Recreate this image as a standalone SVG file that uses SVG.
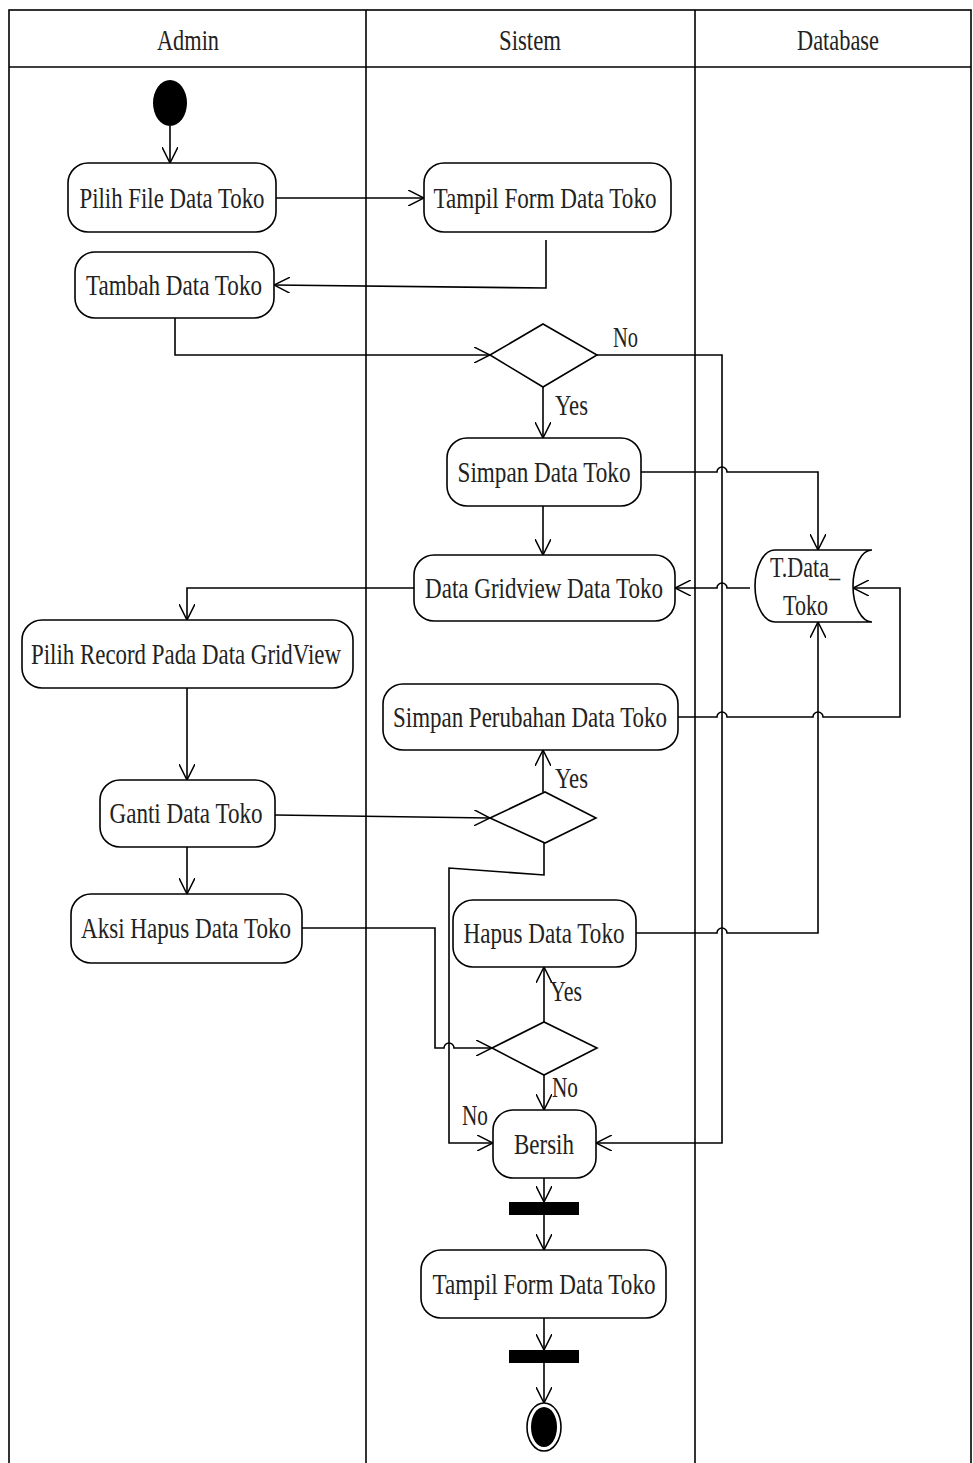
<svg xmlns="http://www.w3.org/2000/svg" width="973" height="1463" viewBox="0 0 973 1463">
<style>
.lane{fill:none;stroke:#000;stroke-width:1.6}
.act{fill:#fff;stroke:#000;stroke-width:1.6}
.dec{fill:#fff;stroke:#000;stroke-width:1.6}
.con{fill:none;stroke:#000;stroke-width:1.6;marker-end:url(#arr)}
.con2{fill:none;stroke:#000;stroke-width:1.6}
text{font-family:"Liberation Serif","Times New Roman",serif;font-size:29px;fill:#222}
.c{text-anchor:middle}
</style>
<defs>
<marker id="arr" markerUnits="userSpaceOnUse" viewBox="0 0 17 16" refX="16" refY="8" markerWidth="17" markerHeight="16" orient="auto">
<path d="M0,0 L16,8 L0,16" fill="none" stroke="#000" stroke-width="1.5"/>
</marker>
</defs>
<rect width="973" height="1463" fill="#fff"/>
<g id="swimlanes">
<rect class="lane" x="9" y="10" width="962" height="1470" stroke-width="2"/>
<line class="lane" x1="9" y1="67" x2="971" y2="67" stroke-width="2.2"/>
<line class="lane" x1="366" y1="10" x2="366" y2="1463"/>
<line class="lane" x1="695" y1="10" x2="695" y2="1463"/>
<text class="c" x="188" y="50" textLength="62" lengthAdjust="spacingAndGlyphs">Admin</text>
<text class="c" x="530" y="50" textLength="62" lengthAdjust="spacingAndGlyphs">Sistem</text>
<text class="c" x="838" y="50" textLength="82" lengthAdjust="spacingAndGlyphs">Database</text>
</g>
<g id="connectors">
<path class="con" d="M170,126 L170,163"/>
<path class="con" d="M276,198 L424,198"/>
<path class="con" d="M546,240 L546,288 L274,285"/>
<path class="con" d="M175,318 L175,355 L490,355"/>
<path class="con" d="M597,355 L722,355 L722,1143 L596,1143"/>
<path class="con" d="M543,387 L543,438"/>
<path class="con" d="M640,472 L717,472 A5,5 0 0 1 727,472 L818,472 L818,550"/>
<path class="con" d="M543,506 L543,555"/>
<path class="con" d="M750,588 L727,588 A5,5 0 0 0 717,588 L675,588"/>
<path class="con" d="M414,588 L187,588 L187,620"/>
<path class="con" d="M187,688 L187,780"/>
<path class="con" d="M187,847 L187,894"/>
<path class="con" d="M275,815 L490,818"/>
<path class="con" d="M543,792 L543,750"/>
<path class="con" d="M678,717 L717,717 A5,5 0 0 1 727,717 L813,717 A5,5 0 0 1 823,717 L900,717 L900,588 L853,588"/>
<path class="con" d="M544,843 L544,875 L449,868 L449,1143 L493,1143"/>
<path class="con" d="M302,928 L435,928 L435,1048 L444,1048 A5,5 0 0 1 454,1048 L492,1048"/>
<path class="con" d="M636,933 L717,933 A5,5 0 0 1 727,933 L818,933 L818,622"/>
<path class="con" d="M544,1022 L544,967"/>
<path class="con" d="M544,1075 L544,1110"/>
<path class="con" d="M544,1178 L544,1202"/>
<path class="con" d="M544,1215 L544,1250"/>
<path class="con" d="M544,1318 L544,1350"/>
<path class="con" d="M544,1363 L544,1403"/>
<text x="613" y="347" textLength="25" lengthAdjust="spacingAndGlyphs">No</text>
<text x="555" y="415" textLength="33" lengthAdjust="spacingAndGlyphs">Yes</text>
<text x="555" y="788" textLength="33" lengthAdjust="spacingAndGlyphs">Yes</text>
<text x="550" y="1001" textLength="32" lengthAdjust="spacingAndGlyphs">Yes</text>
<text x="552" y="1097" textLength="26" lengthAdjust="spacingAndGlyphs">No</text>
<text x="462" y="1125" textLength="26" lengthAdjust="spacingAndGlyphs">No</text>
</g>
<g id="start"><ellipse cx="170" cy="103" rx="17" ry="23" fill="#000"/></g>
<g id="pilih-file"><rect class="act" x="68" y="163" width="208" height="69" rx="20"/><text class="c" x="172" y="208" textLength="185" lengthAdjust="spacingAndGlyphs">Pilih File Data Toko</text></g>
<g id="tampil-form-1"><rect class="act" x="424" y="163" width="247" height="69" rx="20"/><text class="c" x="545" y="208" textLength="223" lengthAdjust="spacingAndGlyphs">Tampil Form Data Toko</text></g>
<g id="tambah"><rect class="act" x="75" y="252" width="199" height="66" rx="20"/><text class="c" x="174" y="295" textLength="176" lengthAdjust="spacingAndGlyphs">Tambah Data Toko</text></g>
<g id="decision-1"><path class="dec" d="M490,355 L543,324 L597,355 L543,387 Z"/></g>
<g id="simpan"><rect class="act" x="447" y="438" width="194" height="68" rx="20"/><text class="c" x="544" y="482" textLength="173" lengthAdjust="spacingAndGlyphs">Simpan Data Toko</text></g>
<g id="gridview"><rect class="act" x="414" y="555" width="261" height="66" rx="20"/><text class="c" x="544" y="598" textLength="238" lengthAdjust="spacingAndGlyphs">Data Gridview Data Toko</text></g>
<g id="t-data-toko"><path class="act" d="M775,550 L872,550 A19,36 0 0 0 872,622 L775,622 A20,36 0 0 1 775,550 Z"/><text x="770" y="577" textLength="70" lengthAdjust="spacingAndGlyphs">T.Data_</text><text x="783" y="615" textLength="45" lengthAdjust="spacingAndGlyphs">Toko</text></g>
<g id="pilih-record"><rect class="act" x="22" y="620" width="331" height="68" rx="20"/><text class="c" x="186" y="664" textLength="310" lengthAdjust="spacingAndGlyphs">Pilih Record Pada Data GridView</text></g>
<g id="simpan-perubahan"><rect class="act" x="383" y="684" width="295" height="66" rx="20"/><text class="c" x="530" y="727" textLength="274" lengthAdjust="spacingAndGlyphs">Simpan Perubahan Data Toko</text></g>
<g id="ganti"><rect class="act" x="100" y="780" width="175" height="67" rx="20"/><text class="c" x="186" y="823" textLength="153" lengthAdjust="spacingAndGlyphs">Ganti Data Toko</text></g>
<g id="decision-2"><path class="dec" d="M490,818 L545,792 L596,818 L545,843 Z"/></g>
<g id="aksi-hapus"><rect class="act" x="71" y="894" width="231" height="69" rx="20"/><text class="c" x="186" y="938" textLength="210" lengthAdjust="spacingAndGlyphs">Aksi Hapus Data Toko</text></g>
<g id="hapus"><rect class="act" x="453" y="900" width="183" height="67" rx="20"/><text class="c" x="544" y="943" textLength="161" lengthAdjust="spacingAndGlyphs">Hapus Data Toko</text></g>
<g id="decision-3"><path class="dec" d="M492,1048 L544,1022 L597,1048 L544,1075 Z"/></g>
<g id="bersih"><rect class="act" x="493" y="1110" width="103" height="68" rx="20"/><text class="c" x="544" y="1154" textLength="60" lengthAdjust="spacingAndGlyphs">Bersih</text></g>
<g id="fork-1"><rect x="509" y="1202" width="70" height="13" fill="#000"/></g>
<g id="tampil-form-2"><rect class="act" x="421" y="1250" width="245" height="68" rx="20"/><text class="c" x="544" y="1294" textLength="223" lengthAdjust="spacingAndGlyphs">Tampil Form Data Toko</text></g>
<g id="fork-2"><rect x="509" y="1350" width="70" height="13" fill="#000"/></g>
<g id="end"><ellipse cx="544" cy="1427" rx="17" ry="24" fill="#fff" stroke="#000" stroke-width="1.6"/><ellipse cx="544" cy="1427" rx="13" ry="20" fill="#000"/></g>
</svg>
